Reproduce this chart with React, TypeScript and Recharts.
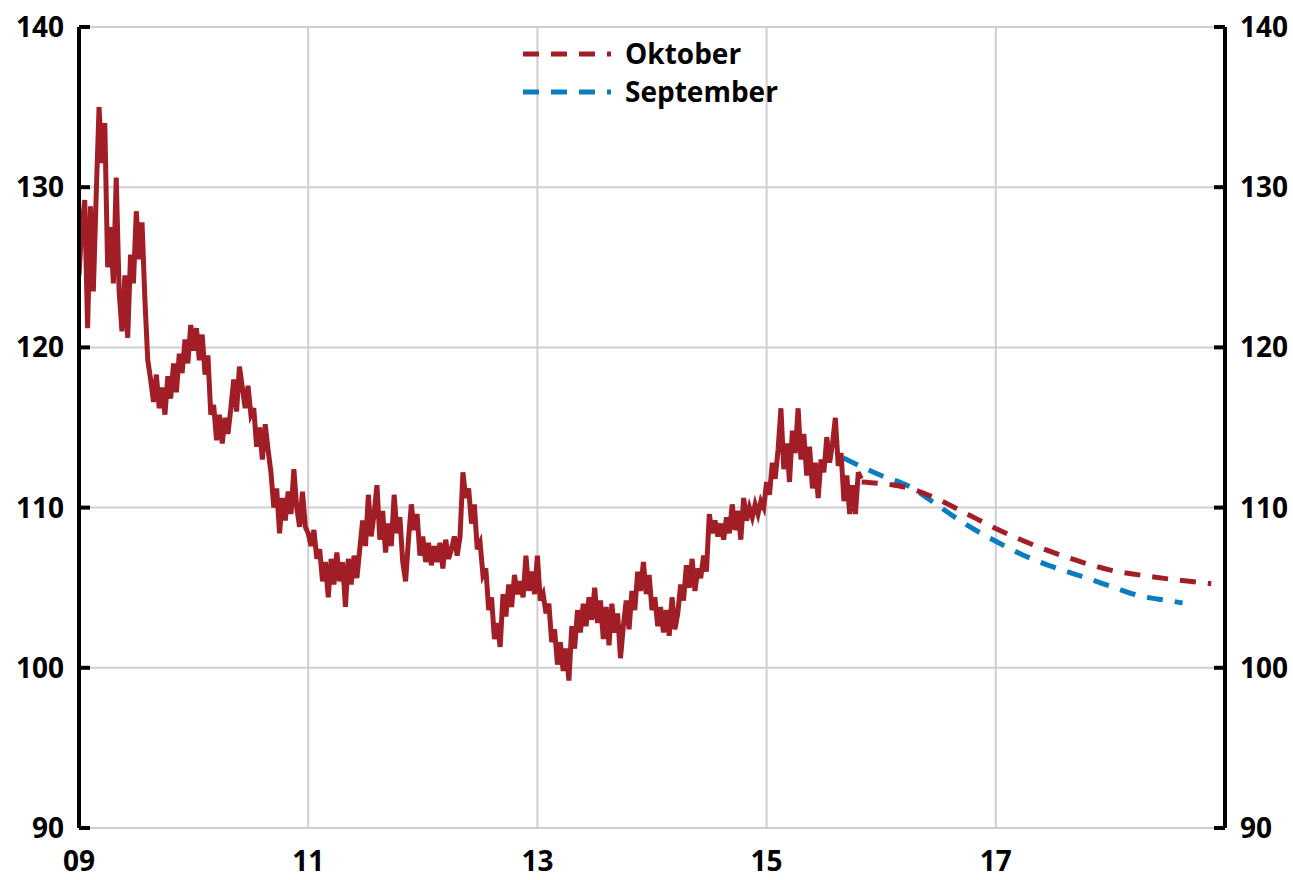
import React from "react";
import { LineChart, Line, XAxis, YAxis, CartesianGrid, Legend } from "recharts";

// Historic series: regular sampling every 0.025 year starting Jan 2009
const histStart = 2009;
const histStep = 0.025;
const histValues: number[] = [
  // 2009
  124.5, 127.5, 129.2, 121.2, 128.8, 123.5, 129.5, 135.0, 131.5, 134.0,
  125.0, 127.5, 124.0, 130.6, 123.5, 121.0, 124.5, 120.6, 125.8, 124.0,
  128.5, 125.5, 127.8, 123.0, 119.2, 118.0, 116.6, 118.3, 116.2, 117.5,
  115.8, 118.2, 116.8, 119.0, 117.2, 119.6, 118.4, 120.5, 119.0, 121.4,
  // 2010
  119.8, 121.2, 119.2, 120.8, 118.3, 119.5, 115.8, 116.4, 114.2, 115.8,
  114.0, 115.6, 114.6, 116.2, 118.0, 116.0, 118.8, 117.5, 116.2, 117.6,
  115.8, 116.2, 113.8, 115.0, 113.0, 115.2, 113.6, 112.2, 110.0, 111.2,
  108.4, 110.6, 109.2, 111.0, 109.6, 112.4, 110.0, 108.8, 111.0, 108.8,
  // 2011
  108.4, 107.6, 108.6, 106.8, 107.4, 105.4, 106.6, 104.4, 106.8, 105.2,
  107.2, 105.4, 106.6, 103.8, 106.8, 105.2, 107.0, 105.6, 107.4, 109.2,
  107.6, 110.8, 108.2, 109.6, 111.4, 108.0, 109.8, 107.2, 109.0, 107.6,
  110.8, 108.4, 109.4, 106.6, 105.4, 108.0, 110.2, 108.6, 109.6, 107.0,
  // 2012
  108.2, 106.6, 107.8, 106.4, 107.6, 106.6, 107.8, 106.2, 108.0, 106.8,
  107.4, 108.2, 107.0, 108.2, 112.2, 110.6, 111.2, 109.0, 110.2, 107.4,
  107.8, 105.8, 106.2, 103.6, 104.4, 101.8, 102.8, 101.3, 104.6, 103.2,
  105.2, 103.8, 105.8, 104.6, 105.4, 104.4, 107.0, 104.8, 106.0, 104.6,
  // 2013
  107.0, 104.2, 104.6, 103.4, 104.0, 101.6, 102.4, 100.2, 101.6, 99.8,
  101.2, 99.2, 102.6, 101.2, 103.6, 102.2, 104.0, 102.6, 104.4, 103.0,
  105.0, 102.8, 104.2, 101.8, 103.8, 101.4, 104.0, 102.2, 103.4, 100.6,
  102.6, 104.2, 102.4, 104.8, 103.6, 106.0, 104.8, 106.6, 104.6, 105.8,
  // 2014
  103.6, 104.4, 102.6, 103.8, 102.2, 103.6, 102.0, 104.4, 102.4, 103.4,
  105.2, 104.2, 106.4, 105.0, 106.8, 104.8, 106.2, 105.6, 107.0, 106.0,
  109.6, 108.4, 109.2, 108.2, 109.0, 108.0, 109.4, 108.4, 110.2, 108.6,
  109.8, 108.0, 110.6, 109.2, 110.0, 109.4, 110.2, 109.6, 110.4, 110.0,
  // 2015
  111.6, 110.8, 112.8, 111.8, 113.6, 116.2, 112.4, 114.0, 111.6, 114.8,
  113.4, 116.2, 113.0, 114.6, 112.0, 113.8, 111.2, 112.8, 110.6, 113.0,
  112.2, 114.4, 112.8, 114.0, 115.6, 112.6, 113.4, 110.4, 112.0, 109.6,
  111.4, 109.6, 112.2, 111.8,
];

// Forecasts
const octYears = [2015.83, 2016.0, 2016.25, 2016.5, 2016.75, 2017.0, 2017.25, 2017.5, 2017.75, 2018.0, 2018.25, 2018.5, 2018.75, 2018.88];
const octValues = [111.6, 111.5, 111.2, 110.5, 109.6, 108.7, 107.9, 107.2, 106.6, 106.1, 105.8, 105.55, 105.35, 105.25];
const sepYears = [2015.67, 2016.0, 2016.25, 2016.5, 2016.75, 2017.0, 2017.25, 2017.5, 2017.75, 2018.0, 2018.25, 2018.5, 2018.63];
const sepValues = [113.1, 112.0, 111.3, 110.1, 108.9, 107.9, 107.0, 106.3, 105.7, 105.1, 104.5, 104.2, 104.05];

const xTicks = [2009, 2011, 2013, 2015, 2017];
const yTicks = [90, 100, 110, 120, 130, 140];

const RED = "#A21E26";
const BLUE = "#0A7DC2";
const FONT = "'Open Sans', sans-serif";

const histData = histValues.map((v, i) => ({ x: histStart + i * histStep, y: v }));
const octData = octYears.map((x, i) => ({ x, y: octValues[i] }));
const sepData = sepYears.map((x, i) => ({ x, y: sepValues[i] }));

const TICK_MARGIN = 15;
const TICK_LEN = 11;

const LeftTick = (props: any) => {
  const { x, y, payload } = props;
  const axisX = x + TICK_MARGIN;
  return (
    <g>
      <line x1={axisX} x2={axisX + TICK_LEN} y1={y} y2={y} stroke="#000" strokeWidth={4} />
      <text x={x} y={y} dy={10} textAnchor="end" fontFamily={FONT} fontWeight={700} fontSize={28} fill="#000">
        {payload.value}
      </text>
    </g>
  );
};

const RightTick = (props: any) => {
  const { x, y, payload } = props;
  const axisX = x - TICK_MARGIN;
  return (
    <g>
      <line x1={axisX - TICK_LEN} x2={axisX} y1={y} y2={y} stroke="#000" strokeWidth={4} />
      <text x={x} y={y} dy={10} textAnchor="start" fontFamily={FONT} fontWeight={700} fontSize={28} fill="#000">
        {payload.value}
      </text>
    </g>
  );
};

const BottomTick = (props: any) => {
  const { x, y, payload } = props;
  const label = String(Math.round(payload.value) % 100).padStart(2, "0");
  return (
    <text x={x} y={y} dy={43} textAnchor="middle" fontFamily={FONT} fontWeight={700} fontSize={28} fill="#000">
      {label}
    </text>
  );
};

const legendItems = [
  { name: "Oktober", color: RED },
  { name: "September", color: BLUE },
];

const LegendContent = () => (
  <svg width={300} height={90}>
    {legendItems.map((it, i) => (
      <g key={it.name}>
        <line x1={0} x2={88} y1={24 + i * 38} y2={24 + i * 38} stroke={it.color} strokeWidth={5} strokeDasharray="16 12" />
        <text x={102} y={34 + i * 38} fontFamily={FONT} fontWeight={700} fontSize={28} fill="#000">
          {it.name}
        </text>
      </g>
    ))}
  </svg>
);

export default function App() {
  return (
    <div style={{ position: "absolute", left: 0, top: 0, width: 1293, height: 880, overflow: "hidden", background: "#fff" }}>
      <LineChart
        width={1293}
        height={880}
        margin={{ top: 27, right: 8, bottom: 12, left: 19 }}
        style={{ fontFamily: FONT }}
      >
        <CartesianGrid yAxisId="left" stroke="#cfcfcf" strokeWidth={2} />
        <XAxis
          dataKey="x"
          type="number"
          domain={[2009, 2019]}
          ticks={xTicks}
          allowDataOverflow
          axisLine={false}
          tickLine={false}
          tickSize={0}
          tickMargin={0}
          height={40}
          tick={<BottomTick />}
        />
        <YAxis
          yAxisId="left"
          orientation="left"
          type="number"
          domain={[90, 140]}
          ticks={yTicks}
          width={60}
          axisLine={{ stroke: "#000", strokeWidth: 4 }}
          tickLine={false}
          tickSize={0}
          tickMargin={TICK_MARGIN}
          tick={<LeftTick />}
          allowDataOverflow
        />
        <YAxis
          yAxisId="right"
          orientation="right"
          type="number"
          domain={[90, 140]}
          ticks={yTicks}
          width={60}
          axisLine={{ stroke: "#000", strokeWidth: 4 }}
          tickLine={false}
          tickSize={0}
          tickMargin={TICK_MARGIN}
          tick={<RightTick />}
          allowDataOverflow
        />
        <Legend
          layout="vertical"
          align="center"
          verticalAlign="middle"
          content={<LegendContent />}
          wrapperStyle={{ top: 30, left: 523, width: 300, height: 90 }}
        />
        <Line
          yAxisId="left"
          data={sepData}
          dataKey="y"
          name="September"
          type="monotone"
          stroke={BLUE}
          strokeWidth={5}
          strokeDasharray="16 12"
          dot={false}
          activeDot={false}
          isAnimationActive={false}
        />
        <Line
          yAxisId="left"
          data={octData}
          dataKey="y"
          name="Oktober"
          type="monotone"
          stroke={RED}
          strokeWidth={5}
          strokeDasharray="16 12"
          dot={false}
          activeDot={false}
          isAnimationActive={false}
        />
        <Line
          yAxisId="left"
          data={histData}
          dataKey="y"
          name="Historik"
          legendType="none"
          type="linear"
          stroke={RED}
          strokeWidth={5}
          strokeLinejoin="miter"
          dot={false}
          activeDot={false}
          isAnimationActive={false}
        />
      </LineChart>
    </div>
  );
}
